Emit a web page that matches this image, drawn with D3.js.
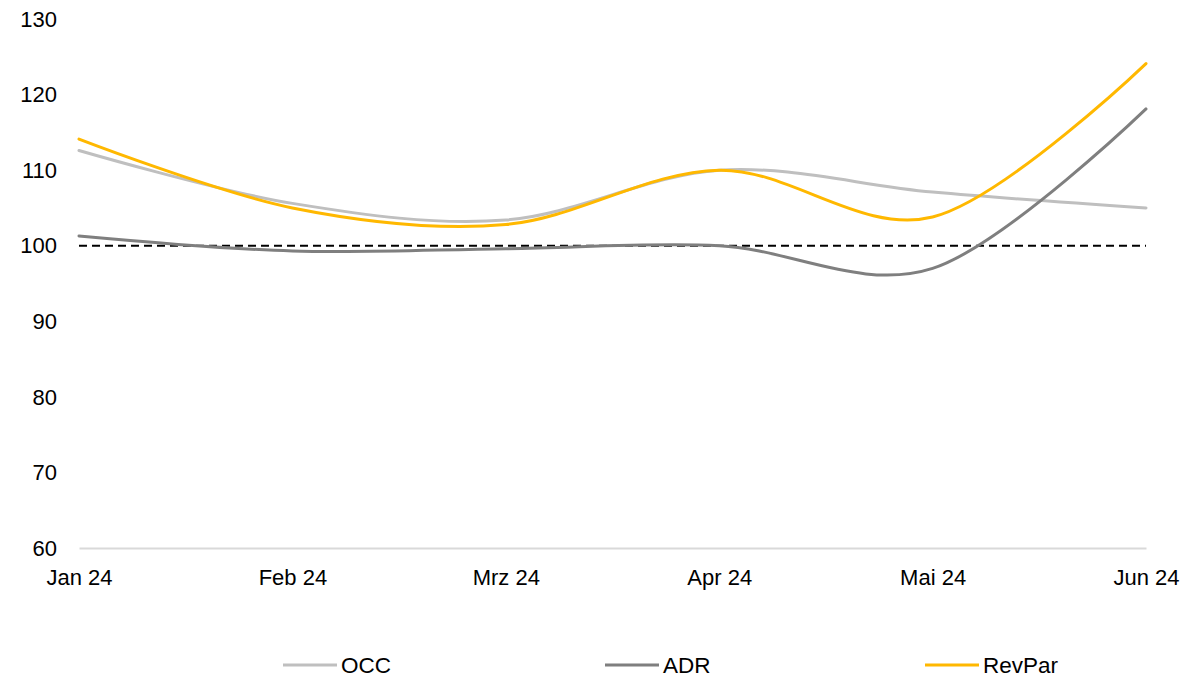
<!DOCTYPE html>
<html>
<head>
<meta charset="utf-8">
<script src="https://cdn.jsdelivr.net/npm/d3@7"></script>
<style>
    body { margin: 0; background: #fff; }
    svg text { font-family: "Liberation Sans", Arial, sans-serif; fill: #000; }
</style>
</head>
<body>
<svg width="1204" height="685"></svg>
<script>
var months = ["Jan 24", "Feb 24", "Mrz 24", "Apr 24", "Mai 24", "Jun 24"];
var occ = [112.6, 105.6, 103.4, 110.0, 107.1, 105.0];
var adr = [101.3, 99.3, 99.6, 100.0, 97.0, 118.1];
var revpar = [114.1, 105.0, 102.8, 110.0, 103.8, 124.1];
var yTicks = [60, 70, 80, 90, 100, 110, 120, 130];
var baseline = 100;

var series = [
    { name: "OCC", values: occ, color: "#bfbfbf" },
    { name: "ADR", values: adr, color: "#7f7f7f" },
    { name: "RevPar", values: revpar, color: "#ffb800" }
];

var svg = d3.select("svg");

var x = d3.scalePoint()
    .domain(months)
    .range([79, 1146]);

var y = d3.scaleLinear()
    .domain([60, 130])
    .range([548, 19]);

// y labels, no axis line
svg.append("g")
    .selectAll("text")
    .data(yTicks)
    .enter().append("text")
    .attr("x", 57)
    .attr("y", function(d) { return y(d); })
    .attr("dy", "0.35em")
    .attr("text-anchor", "end")
    .attr("font-size", 22)
    .text(function(d) { return d; });

// x axis
var xAxis = svg.append("g")
    .attr("transform", "translate(0," + y(60) + ")")
    .call(d3.axisBottom(x).tickSize(0).tickPadding(21));
xAxis.select(".domain").attr("stroke", "#d9d9d9").attr("stroke-width", 2);
xAxis.selectAll("text")
    .attr("font-size", 22)
    .attr("font-family", "Liberation Sans, Arial, sans-serif")
    .attr("fill", "#000");

// 100 reference line
svg.append("line")
    .attr("x1", x(months[0]))
    .attr("x2", x(months[months.length - 1]))
    .attr("y1", y(baseline))
    .attr("y2", y(baseline))
    .attr("stroke", "#000")
    .attr("stroke-width", 2)
    .attr("stroke-dasharray", "8,5");

var line = d3.line()
    .x(function(d, i) { return x(months[i]); })
    .y(function(d) { return y(d); })
    .curve(d3.curveCardinal.tension(0));

svg.append("g")
    .selectAll("path")
    .data(series)
    .enter().append("path")
    .attr("d", function(d) { return line(d.values); })
    .attr("fill", "none")
    .attr("stroke", function(d) { return d.color; })
    .attr("stroke-width", 3)
    .attr("stroke-linecap", "round");

// legend
var legendX = [283, 605, 925];
var legend = svg.append("g")
    .selectAll("g")
    .data(series)
    .enter().append("g")
    .attr("transform", function(d, i) { return "translate(" + legendX[i] + ",665)"; });

legend.append("line")
    .attr("x1", 0)
    .attr("x2", 54)
    .attr("stroke", function(d) { return d.color; })
    .attr("stroke-width", 3);

legend.append("text")
    .attr("x", 58)
    .attr("dy", "0.35em")
    .attr("font-size", 22.5)
    .text(function(d) { return d.name; });
</script>
</body>
</html>
